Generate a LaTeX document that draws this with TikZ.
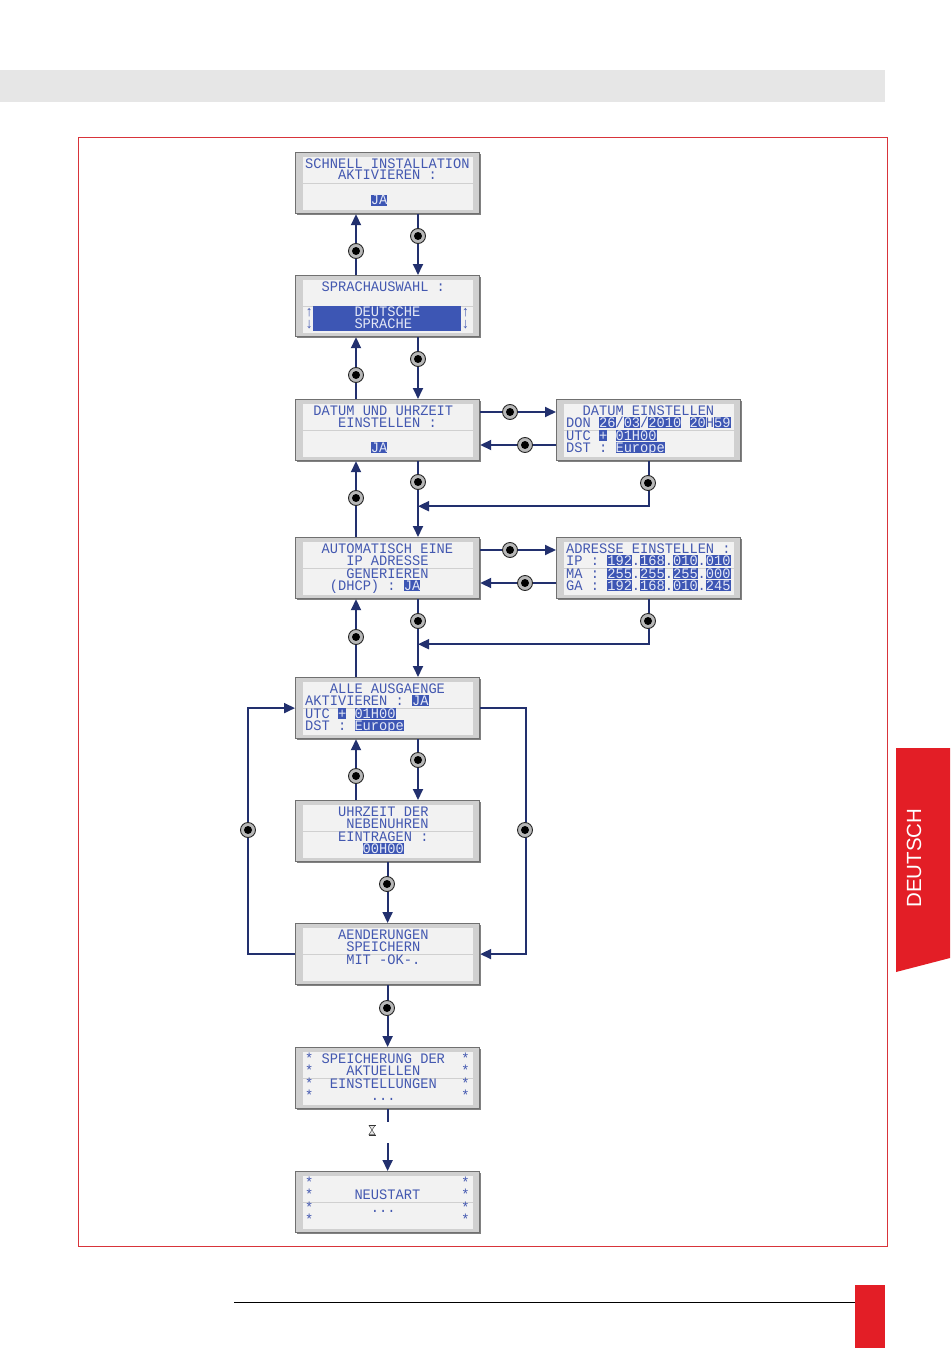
\documentclass[tikz,border=0pt]{standalone}
\usepackage{fontspec}
\usetikzlibrary{calc,arrows.meta,shadows}
\newfontfamily\lcdfont{Liberation Mono}[WordSpace={1,0,0},FakeStretch=0.945]
\newfontfamily\tabfont{Liberation Sans}
\definecolor{arrnavy}{HTML}{22306E}
\definecolor{lcdtext}{HTML}{4358B0}
\definecolor{hlblue}{HTML}{3D56B4}
\definecolor{hltext}{HTML}{E4E8F6}
\definecolor{boxfill}{HTML}{D0D0D0}
\definecolor{boxedge}{HTML}{707070}
\definecolor{panelc}{HTML}{F2F2F2}
\definecolor{pagered}{HTML}{E31E26}
\definecolor{framered}{HTML}{D8343A}
\definecolor{bandgray}{HTML}{E6E6E6}
\expandafter\def\csname lcdrow1\endcsname{16.5}
\expandafter\def\csname lcdrow2\endcsname{28}
\expandafter\def\csname lcdrow3\endcsname{41.5}
\expandafter\def\csname lcdrow4\endcsname{53}
\newcommand\T[4]{\path ($(#1.north west)+({10+#3*8.22},\csname lcdrow#2\endcsname)$) node[lcd]{#4};}
\newcommand\TW[4]{\path ($(#1.north west)+({10+#3*8.22},\csname lcdrow#2\endcsname)$) node[lcd,text=hltext]{#4};}
\newcommand\HL[4]{\path ($(#1.north west)+({10+#3*8.22},\csname lcdrow#2\endcsname)$) node[lcdhl]{#4};}
\tikzset{
  lcdbox/.style={anchor=north west, minimum width=184pt, minimum height=61pt, inner sep=0pt,
    draw=boxedge, line width=1.2pt, fill=boxfill,
    drop shadow={shadow xshift=1.5pt, shadow yshift=-1.5pt, opacity=0.7, fill=black!70},
    path picture={
      \fill[panelc] ($(path picture bounding box.north west)+(7,4)$) rectangle ($(path picture bounding box.north east)+(-7,30)$);
      \fill[panelc] ($(path picture bounding box.north west)+(7,31.5)$) rectangle ($(path picture bounding box.south east)+(-7,-4)$);
    }},
  lcd/.style={anchor=base west, inner sep=0pt, font=\lcdfont\fontsize{14.5}{15}\selectfont, text=lcdtext,
    text height=10pt, text depth=0.8pt},
  lcdhl/.style={lcd, fill=hlblue, text=hltext, text height=10.3pt, text depth=0.9pt},
  knob/.style={circle, minimum size=15pt, inner sep=0pt, draw=black!85, line width=0.9pt, fill=black!28,
    path picture={\fill[black] (path picture bounding box.center) circle (4pt);}},
  arr/.style={draw=arrnavy, line width=1.8pt, -{Triangle[length=11pt,width=10pt]}},
  plainline/.style={draw=arrnavy, line width=1.8pt},
}
\begin{document}
\begin{tikzpicture}[x=1pt,y=-1pt]
\useasboundingbox (0,0) rectangle (950,1348);
\fill[white] (0,0) rectangle (950,1348);
% page decorations
\fill[bandgray] (0,70) rectangle (885,102);
\draw[framered, line width=0.8pt] (78,137) rectangle (887,1246);
\fill[pagered] (896,748) -- (950,748) -- (950,958) -- (896,972) -- cycle;
\node[rotate=90, text=white, font=\tabfont\fontsize{20.5}{22}\selectfont, inner sep=0pt] (tab) at (914,858) {DEUTSCH};
\draw[black, line width=1pt] (234,1302) -- (855,1302);
\fill[pagered] (855,1285) rectangle (885,1348);

% boxes
\node[lcdbox] (b1) at (295,152) {};
\node[lcdbox] (b2) at (295,275) {};
\node[lcdbox] (b3) at (295,399) {};
\node[lcdbox] (r3) at (556,399) {};
\node[lcdbox] (b4) at (295,537) {};
\node[lcdbox] (r4) at (556,537) {};
\node[lcdbox] (b5) at (295,677) {};
\node[lcdbox] (b6) at (295,800) {};
\node[lcdbox] (b7) at (295,923) {};
\node[lcdbox] (b8) at (295,1047) {};
\node[lcdbox] (b9) at (295,1171) {};

% texts
\T{b1}{1}{0}{SCHNELL INSTALLATION}
\T{b1}{2}{4}{AKTIVIEREN :}
\HL{b1}{4}{8}{JA}

\T{b2}{1}{2}{SPRACHAUSWAHL :}
\fill[hlblue] ($(b2.north west)+(18.2,31)$) rectangle ($(b2.north west)+(166.2,55.5)$);
\TW{b2}{3}{6}{DEUTSCHE}
\TW{b2}{4}{6}{SPRACHE}
\T{b2}{3}{0}{↑}\T{b2}{4}{0}{↓}
\T{b2}{3}{19}{↑}\T{b2}{4}{19}{↓}

\T{b3}{1}{1}{DATUM UND UHRZEIT}
\T{b3}{2}{4}{EINSTELLEN :}
\HL{b3}{4}{8}{JA}

\T{r3}{1}{2}{DATUM EINSTELLEN}
\T{r3}{2}{0}{DON}
\HL{r3}{2}{4}{26}\T{r3}{2}{6}{/}\HL{r3}{2}{7}{03}\T{r3}{2}{9}{/}\HL{r3}{2}{10}{2010}
\HL{r3}{2}{15}{20}\T{r3}{2}{17}{H}\HL{r3}{2}{18}{59}
\T{r3}{3}{0}{UTC}\HL{r3}{3}{4}{+}\HL{r3}{3}{6}{01H00}
\T{r3}{4}{0}{DST :}\HL{r3}{4}{6}{Europe}

\T{b4}{1}{2}{AUTOMATISCH EINE}
\T{b4}{2}{5}{IP ADRESSE}
\T{b4}{3}{5}{GENERIEREN}
\T{b4}{4}{3}{(DHCP) :}
\HL{b4}{4}{12}{JA}

\T{r4}{1}{0}{ADRESSE EINSTELLEN :}
\T{r4}{2}{0}{IP :}\HL{r4}{2}{5}{192}\T{r4}{2}{8}{.}\HL{r4}{2}{9}{168}\T{r4}{2}{12}{.}\HL{r4}{2}{13}{010}\T{r4}{2}{16}{.}\HL{r4}{2}{17}{010}
\T{r4}{3}{0}{MA :}\HL{r4}{3}{5}{255}\T{r4}{3}{8}{.}\HL{r4}{3}{9}{255}\T{r4}{3}{12}{.}\HL{r4}{3}{13}{255}\T{r4}{3}{16}{.}\HL{r4}{3}{17}{000}
\T{r4}{4}{0}{GA :}\HL{r4}{4}{5}{192}\T{r4}{4}{8}{.}\HL{r4}{4}{9}{168}\T{r4}{4}{12}{.}\HL{r4}{4}{13}{010}\T{r4}{4}{16}{.}\HL{r4}{4}{17}{245}

\T{b5}{1}{3}{ALLE AUSGAENGE}
\T{b5}{2}{0}{AKTIVIEREN :}\HL{b5}{2}{13}{JA}
\T{b5}{3}{0}{UTC}\HL{b5}{3}{4}{+}\HL{b5}{3}{6}{01H00}
\T{b5}{4}{0}{DST :}\HL{b5}{4}{6}{Europe}

\T{b6}{1}{4}{UHRZEIT DER}
\T{b6}{2}{5}{NEBENUHREN}
\T{b6}{3}{4}{EINTRAGEN :}
\HL{b6}{4}{7}{00H00}

\T{b7}{1}{4}{AENDERUNGEN}
\T{b7}{2}{5}{SPEICHERN}
\T{b7}{3}{5}{MIT -OK-.}

\foreach \r in {1,2,3,4} {\T{b8}{\r}{0}{*}\T{b8}{\r}{19}{*}\T{b9}{\r}{0}{*}\T{b9}{\r}{19}{*}}
\T{b8}{1}{2}{SPEICHERUNG DER}
\T{b8}{2}{5}{AKTUELLEN}
\T{b8}{3}{3}{EINSTELLUNGEN}
\T{b8}{4}{8}{...}
\T{b9}{2}{6}{NEUSTART}
\T{b9}{3}{8}{...}

% vertical connectors
\foreach \u/\l in {b1/b2,b2/b3,b3/b4,b4/b5,b5/b6} {
  \draw[arr] ($(\l.north west)+(61,0)$) -- ($(\u.south west)+(61,0)$);
  \draw[arr] ($(\u.south west)+(123,0)$) -- ($(\l.north west)+(123,0)$);
}
\draw[arr] (b6.south) -- (b7.north);
\draw[arr] (b7.south) -- (b8.north);
\draw[plainline] (b8.south) -- ++(0,13) coordinate (hgtop);
\coordinate (hgbot) at ($(b9.north)+(0,-28)$);
\draw[arr] (hgbot) -- (b9.north);
% hourglass
\draw[black!70, fill=black!10, line width=0.5pt] (369,1125.5) -- (375,1125.5) -- (369,1134.5) -- (375,1134.5) -- cycle;
\draw[black!80, line width=0.8pt] (368.5,1125) -- (375.5,1125) (368.5,1135) -- (375.5,1135);

% side connectors
\draw[arr] ($(b3.north east)+(0,13)$) -- ($(r3.north west)+(0,13)$);
\draw[arr] ($(r3.north west)+(0,46)$) -- ($(b3.north east)+(0,46)$);
\draw[arr] ($(b4.north east)+(0,13)$) -- ($(r4.north west)+(0,13)$);
\draw[arr] ($(r4.north west)+(0,46)$) -- ($(b4.north east)+(0,46)$);
\draw[arr] (r3.south) |- ($(b3.south west)+(123,45)$);
\draw[arr] (r4.south) |- ($(b4.south west)+(123,45)$);

% loops
\draw[arr] (b7.west) -- ++(-47,0) |- (b5.west);
\draw[arr] (b5.east) -| ($(b7.east)+(46,0)$) -- (b7.east);

% knobs
\foreach \y [count=\i] in {251,375,498,637,776} {\node[knob] (ku\i) at (356,\y) {};}
\foreach \y [count=\i] in {236,359,482,621,760} {\node[knob] (kd\i) at (418,\y) {};}
\node[knob] (k67) at (387,884) {};
\node[knob] (k78) at (387,1008) {};
\node[knob] (kl) at (248,830) {};
\node[knob] (kr) at (525,830) {};
\node[knob] (ks3a) at (510,412) {};
\node[knob] (ks3b) at (525,445) {};
\node[knob] (ks4a) at (510,550) {};
\node[knob] (ks4b) at (525,583) {};
\node[knob] (km3) at (648,483) {};
\node[knob] (km4) at (648,621) {};
\end{tikzpicture}
\end{document}
